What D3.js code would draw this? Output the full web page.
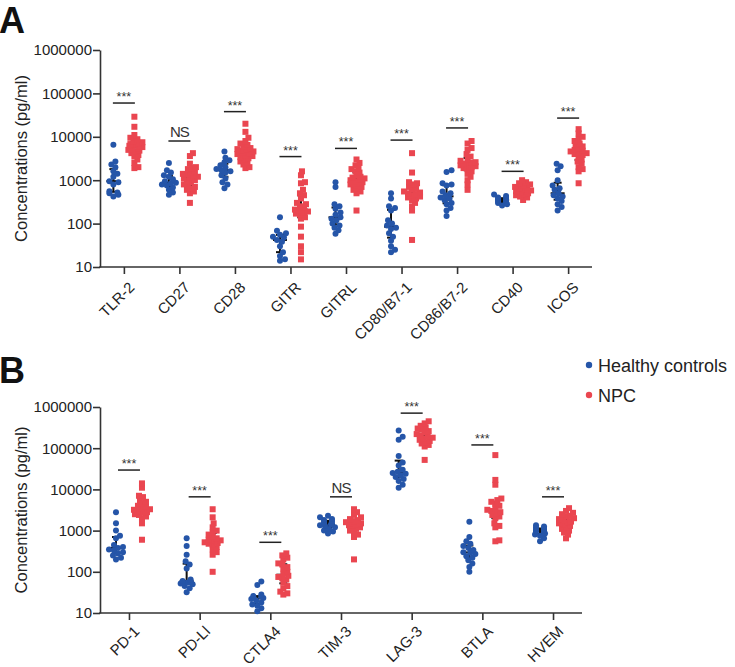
<!DOCTYPE html>
<html>
<head>
<meta charset="utf-8">
<script src="https://cdn.jsdelivr.net/npm/d3@7"></script>
<style>
  body { margin: 0; background: #fff; }
  svg text { font-family: Arial, "Liberation Sans", Helvetica, sans-serif; }
</style>
</head>
<body>
<svg id="chart" width="735" height="667"></svg>
<script>
// ---------------------------------------------------------------- data //

var catsA = ["TLR-2", "CD27", "CD28", "GITR", "GITRL", "CD80/B7-1", "CD86/B7-2", "CD40", "ICOS"];
var healthyA = [
  [6600, 2700, 2300, 2000, 1600, 1400, 1200, 950, 900, 800, 560, 520, 500, 460, 420],
  [2500, 1700, 1500, 1300, 1200, 1050, 950, 870, 850, 800, 750, 680, 600, 520, 460],
  [4600, 3300, 2900, 2600, 2200, 2000, 1800, 1700, 1600, 1500, 1300, 1100, 900, 800, 650],
  [140, 68, 60, 55, 50, 48, 42, 38, 30, 22, 18, 15, 14],
  [900, 700, 280, 250, 220, 180, 160, 140, 130, 120, 100, 90, 80, 70, 58],
  [500, 380, 250, 230, 200, 120, 100, 90, 80, 75, 60, 50, 40, 30, 25, 22],
  [1700, 1550, 850, 800, 750, 550, 500, 450, 400, 380, 350, 300, 280, 230, 200, 150],
  [470, 430, 400, 390, 380, 370, 360, 350, 340, 330, 320, 310, 300, 280, 260],
  [2400, 2100, 1700, 1000, 750, 650, 600, 500, 450, 420, 380, 330, 280, 240, 200]
];
var npcA = [
  [29000, 17000, 11000, 9500, 8800, 8000, 7500, 7000, 6800, 6500, 6200, 6000, 5800, 5500, 5200, 5000, 4800, 4500, 4200, 3800, 3500, 3000, 2500, 2000, 1900],
  [4200, 3600, 2400, 2000, 1900, 1800, 1600, 1500, 1400, 1350, 1300, 1200, 1150, 1100, 1000, 950, 900, 800, 750, 700, 650, 600, 550, 500, 300],
  [20000, 13000, 9500, 8000, 7000, 6500, 6000, 5500, 5200, 5000, 4800, 4600, 4400, 4200, 4000, 3800, 3600, 3400, 3200, 3000, 2700, 2500, 2300, 2000, 1900],
  [1600, 1300, 900, 850, 600, 500, 450, 380, 300, 280, 250, 230, 210, 200, 190, 180, 170, 160, 140, 130, 85, 50, 30, 22, 15],
  [3000, 2500, 2200, 1900, 1800, 1600, 1500, 1300, 1200, 1150, 1100, 1050, 1000, 950, 900, 850, 800, 750, 700, 650, 600, 550, 500, 200],
  [4200, 1500, 900, 850, 800, 700, 650, 600, 550, 520, 500, 480, 450, 420, 400, 380, 350, 300, 250, 200, 42],
  [8000, 7000, 5500, 5000, 4000, 3500, 3000, 2800, 2600, 2500, 2400, 2300, 2200, 2100, 2000, 1900, 1800, 1600, 1400, 1200, 1000, 800, 600],
  [1000, 900, 850, 800, 750, 700, 680, 650, 620, 600, 580, 560, 540, 520, 500, 480, 450, 420, 400, 350],
  [15000, 12000, 10000, 9000, 8000, 7000, 6500, 6000, 5500, 5000, 4800, 4600, 4400, 4200, 4000, 3800, 3500, 3000, 2700, 2400, 2000, 1800, 1600, 850]
];
var sigA = ["***", "NS", "***", "***", "***", "***", "***", "***", "***"];
var sigLevelA = [60000, 8000, 38000, 3500, 5400, 8400, 16000, 1600, 27000];

var catsB = ["PD-1", "PD-Ll", "CTLA4", "TIM-3", "LAG-3", "BTLA", "HVEM"];
var healthyB = [
  [2800, 1500, 1000, 750, 650, 450, 400, 380, 350, 330, 300, 280, 250, 220, 200],
  [650, 420, 260, 180, 150, 120, 65, 60, 58, 55, 55, 52, 50, 45, 40, 32],
  [58, 48, 28, 26, 25, 24, 23, 22, 20, 18, 16, 15, 13, 11],
  [2300, 2100, 1900, 1800, 1700, 1600, 1500, 1450, 1400, 1350, 1300, 1200, 1100, 1000, 950, 850],
  [270000, 190000, 160000, 65000, 45000, 38000, 30000, 27000, 25000, 24000, 22000, 20000, 18000, 16000, 13000, 11000],
  [1650, 700, 550, 480, 420, 380, 340, 300, 290, 270, 240, 220, 190, 160, 130, 100],
  [1350, 1250, 1200, 1150, 1100, 1050, 1000, 980, 950, 900, 850, 800, 750, 650, 550]
];
var npcB = [
  [14000, 11000, 7000, 6500, 5500, 5000, 4500, 4000, 3800, 3500, 3300, 3200, 3000, 2900, 2800, 2700, 2500, 2400, 2200, 2000, 1500, 600],
  [3300, 2100, 1500, 1200, 1000, 900, 800, 700, 650, 600, 580, 560, 540, 520, 500, 480, 450, 400, 350, 300, 260, 100],
  [280, 250, 220, 200, 160, 150, 130, 120, 100, 90, 80, 75, 70, 65, 55, 45, 40, 33, 30, 28],
  [3300, 2800, 2400, 2100, 1900, 1800, 1700, 1600, 1500, 1450, 1400, 1350, 1300, 1200, 1100, 1000, 900, 800, 700, 200],
  [450000, 400000, 350000, 320000, 300000, 280000, 260000, 240000, 220000, 200000, 190000, 180000, 170000, 160000, 150000, 140000, 130000, 120000, 110000, 52000],
  [68000, 17000, 13000, 6000, 5500, 5000, 4500, 4000, 3500, 3200, 3000, 2800, 2600, 2400, 2200, 2000, 1500, 1300, 1200, 580, 550],
  [3500, 3000, 2700, 2500, 2300, 2200, 2000, 1900, 1800, 1700, 1650, 1600, 1500, 1400, 1300, 1200, 1100, 1000, 900, 800, 650]
];
var sigB = ["***", "***", "***", "NS", "***", "***", "***"];
var sigLevelB = [29500, 6600, 520, 6600, 710000, 120000, 6600];

var yTicks = [10, 100, 1000, 10000, 100000, 1000000];
var groups = ["Healthy controls", "NPC"];

var blue = "#2555a8";
var red = "#ea4650";
var ink = "#222";

var svg = d3.select("#chart");

////////////////////////////////////////////////////////////////////////////
//                                                             draw panel //
////////////////////////////////////////////////////////////////////////////

function drawPanel(cfg) {
  var g = svg.append("g");

  var x = d3.scalePoint()
    .domain(cfg.cats)
    .range([cfg.left, cfg.right])
    .padding(cfg.pad);

  var y = d3.scaleLog()
    .domain([10, 1000000])
    .range([cfg.bottom, cfg.top]);

  // panel letter
  g.append("text")
    .attr("x", -1).attr("y", cfg.letterY)
    .attr("font-size", 36).attr("font-weight", "bold")
    .attr("fill", "#111")
    .text(cfg.letter);

  // y label
  g.append("text")
    .attr("transform", "translate(27," + ((cfg.top + cfg.bottom) / 2) + ") rotate(-90)")
    .attr("text-anchor", "middle")
    .attr("font-size", 16.5).attr("fill", ink)
    .text("Concentrations (pg/ml)");

  // axes
  var yAxis = d3.axisLeft(y).tickValues(yTicks).tickFormat(d3.format("d")).tickSize(7).tickSizeOuter(0);
  var ya = g.append("g").attr("transform", "translate(" + cfg.left + ",0)").call(yAxis);
  ya.select(".domain").attr("stroke", "#333").attr("stroke-width", 1.6);
  ya.selectAll(".tick line").attr("stroke", "#333").attr("stroke-width", 1.6);
  ya.selectAll(".tick text").attr("font-size", 15).attr("fill", ink).attr("x", -8)
    .style("font-family", "Arial, 'Liberation Sans', sans-serif");

  var xAxis = d3.axisBottom(x).tickSize(7).tickSizeOuter(0).tickFormat("");
  var xa = g.append("g").attr("transform", "translate(0," + cfg.bottom + ")").call(xAxis);
  xa.select(".domain").attr("stroke", "#333").attr("stroke-width", 1.6)
    .attr("d", "M" + (cfg.left - 0.8) + ",0H" + cfg.right);
  xa.selectAll(".tick line").attr("stroke", "#333").attr("stroke-width", 1.6);

  g.selectAll(".xlab")
    .data(cfg.cats)
    .enter().append("text")
    .attr("class", "xlab")
    .attr("transform", function(d) { return "translate(" + (x(d) + 4) + "," + (cfg.bottom + cfg.labGap) + ") rotate(-45)"; })
    .attr("text-anchor", "end")
    .attr("dy", "0.7em")
    .attr("font-size", 15).attr("fill", ink)
    .text(function(d) { return d; });

  // scatter groups
  cfg.cats.forEach(function(cat, i) {
    var cx = x(cat);
    drawGroup(g, cfg.healthy[i], cx - cfg.off, y, "circle", blue);
    drawGroup(g, cfg.npc[i], cx + cfg.off, y, "square", red);

    // significance bracket
    var ly = y(cfg.sigLevel[i]);
    g.append("line")
      .attr("x1", cx - 11).attr("x2", cx + 11)
      .attr("y1", ly).attr("y2", ly)
      .attr("stroke", "#222").attr("stroke-width", 1.5);
    var ns = cfg.sig[i] === "NS";
    g.append("text")
      .attr("x", cx).attr("y", ns ? ly - 4 : ly - 2)
      .attr("text-anchor", "middle")
      .attr("font-size", ns ? 15 : 12.5)
      .attr("letter-spacing", ns ? -1 : 0)
      .attr("fill", "#333")
      .text(cfg.sig[i]);
  });
}

// median + interquartile range, then the dots swarmed around the centre
function drawGroup(g, values, cx, y, shape, colour) {
  var sorted = values.slice().sort(d3.ascending);
  var med = d3.quantile(sorted, 0.5);
  var q1 = d3.quantile(sorted, 0.25);
  var q3 = d3.quantile(sorted, 0.75);

  var bars = g.append("g").attr("stroke", "#111").attr("stroke-width", 2);
  bars.append("line").attr("x1", cx).attr("x2", cx).attr("y1", y(q1)).attr("y2", y(q3));
  bars.append("line").attr("x1", cx - 4).attr("x2", cx + 4).attr("y1", y(q1)).attr("y2", y(q1));
  bars.append("line").attr("x1", cx - 4).attr("x2", cx + 4).attr("y1", y(q3)).attr("y2", y(q3));
  bars.append("line").attr("x1", cx - 7).attr("x2", cx + 7).attr("y1", y(med)).attr("y2", y(med));

  // simple beeswarm: try offsets outwards until there is room
  var placed = [];
  var minDist = shape === "circle" ? 4.6 : 4.0;
  sorted.forEach(function(v) {
    var py = y(v);
    var steps = [0, 1, -1, 2, -2, 3, -3, 4, -4, 5, -5, 6, -6, 7, -7, 8, -8];
    var px = cx;
    for (var k = 0; k < steps.length; k++) {
      var tx = cx + steps[k];
      var ok = placed.every(function(p) {
        return Math.hypot(p[0] - tx, p[1] - py) >= minDist;
      });
      if (ok) { px = tx; break; }
      if (k === steps.length - 1) px = cx + (placed.length % 2 ? 4 : -4);
    }
    placed.push([px, py]);
  });

  if (shape === "circle") {
    g.append("g").selectAll("circle")
      .data(placed).enter().append("circle")
      .attr("cx", function(d) { return d[0]; })
      .attr("cy", function(d) { return d[1]; })
      .attr("r", 3)
      .attr("fill", colour);
  } else {
    g.append("g").selectAll("rect")
      .data(placed).enter().append("rect")
      .attr("x", function(d) { return d[0] - 3; })
      .attr("y", function(d) { return d[1] - 3; })
      .attr("width", 6).attr("height", 6)
      .attr("fill", colour);
  }
}

drawPanel({
  letter: "A", letterY: 33,
  cats: catsA, healthy: healthyA, npc: npcA, sig: sigA, sigLevel: sigLevelA,
  left: 100, right: 592, pad: 0.43, top: 50, bottom: 267, off: 10.5, labGap: 14
});

drawPanel({
  letter: "B", letterY: 383,
  cats: catsB, healthy: healthyB, npc: npcB, sig: sigB, sigLevel: sigLevelB,
  left: 100, right: 582, pad: 0.41, top: 407, bottom: 613, off: 13, labGap: 12
});

// legend
var legend = svg.append("g").attr("transform", "translate(589,365)");
groups.forEach(function(name, i) {
  legend.append("circle")
    .attr("cx", 0).attr("cy", i * 30).attr("r", 3.2)
    .attr("fill", i === 0 ? blue : red);
  legend.append("text")
    .attr("x", 9).attr("y", i * 30 + 6.5)
    .attr("font-size", 18).attr("fill", ink)
    .text(name);
});
</script>
</body>
</html>
